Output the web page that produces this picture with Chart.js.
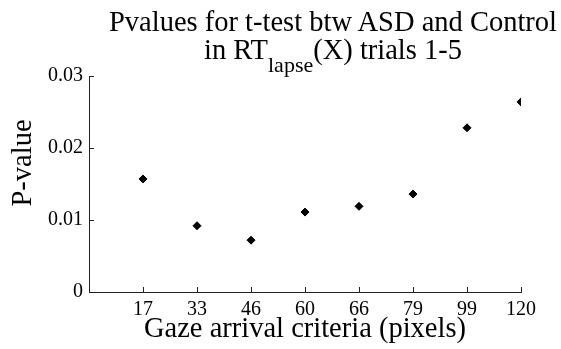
<!DOCTYPE html>
<html lang="en">

<head>
  <meta charset="UTF-8">
  <title>Pvalues</title>
  <script src="https://cdn.jsdelivr.net/npm/chart.js@4/dist/chart.umd.min.js"></script>
  <style>
    body { margin: 0; background: #fff; }
    #wrap { position: relative; width: 561px; height: 349px; }
    #title {
      position: absolute; left: 33px; top: 8px; width: 600px;
      text-align: center; font-family: 'Liberation Serif', serif;
      font-size: 28.5px; line-height: 28px; color: #000; white-space: nowrap;
    }
    #title sub { font-size: 22px; position: relative; top: 13px; vertical-align: baseline; }
    #ylabel {
      position: absolute; left: -78px; top: 149px; width: 200px;
      text-align: center; font-family: 'Liberation Serif', serif;
      font-size: 28.5px; line-height: 28px; color: #000;
      transform: rotate(-90deg);
    }
  </style>
</head>

<body>
  <div id="wrap">
    <canvas id="graph" width="561" height="349"></canvas>
    <div id="title">Pvalues for t-test btw ASD and Control<br>in RT<sub>lapse</sub>(X) trials 1-5</div>
    <div id="ylabel">P-value</div>
  </div>

  <script>
    const criteria = ['17', '33', '46', '60', '66', '79', '99', '120'];
    const pvalues = [0.0157, 0.0092, 0.0072, 0.0111, 0.0119, 0.0136, 0.0228, 0.0264];
    const yTicks = [0, 0.01, 0.02, 0.03];

    const axisColor = '#222';

    // MATLAB style ticks pointing into the plot
    const innerTicks = {
      id: 'innerTicks',
      afterDraw(chart) {
        const ctx = chart.ctx;
        const xs = chart.scales.x, ys = chart.scales.y;
        ctx.save();
        ctx.strokeStyle = axisColor;
        ctx.lineWidth = 1;
        ctx.beginPath();
        xs.ticks.forEach(t => {
          const px = Math.round(xs.getPixelForValue(t.value)) + 0.5;
          ctx.moveTo(px, ys.bottom);
          ctx.lineTo(px, ys.bottom - 5);
        });
        ys.ticks.forEach(t => {
          const py = Math.round(ys.getPixelForValue(t.value)) + 0.5;
          ctx.moveTo(xs.left, py);
          ctx.lineTo(xs.left + 5, py);
        });
        ctx.stroke();
        ctx.restore();
      }
    };

    const ctx = document.getElementById('graph').getContext('2d');
    const chart = new Chart(ctx, {
      type: 'scatter',
      data: {
        datasets: [{
          data: pvalues.map((v, i) => ({ x: i + 1, y: v })),
          pointStyle: 'rectRot',
          pointRadius: 4,
          borderWidth: 1,
          backgroundColor: '#000',
          borderColor: '#000'
        }]
      },
      options: {
        responsive: false,
        animation: false,
        layout: { padding: { top: 76, right: 40, left: 0, bottom: 0 } },
        plugins: { legend: { display: false }, tooltip: { enabled: false } },
        scales: {
          x: {
            type: 'linear',
            min: 0,
            max: 8,
            afterBuildTicks: s => { s.ticks = criteria.map((c, i) => ({ value: i + 1 })); },
            afterFit: s => { s.height = 57; },
            grid: { display: false, drawTicks: false },
            border: { display: true, color: axisColor, width: 1 },
            ticks: {
              padding: 6,
              color: '#000',
              font: { family: 'Liberation Serif', size: 20 },
              callback: v => criteria[v - 1]
            },
            title: {
              display: true,
              text: 'Gaze arrival criteria (pixels)',
              color: '#000',
              font: { family: 'Liberation Serif', size: 28.5 },
              padding: { top: 0, bottom: 2 }
            }
          },
          y: {
            min: 0,
            max: 0.03,
            afterBuildTicks: s => { s.ticks = yTicks.map(v => ({ value: v })); },
            afterFit: s => { s.width = 89; },
            grid: { display: false, drawTicks: false },
            border: { display: true, color: axisColor, width: 1 },
            ticks: {
              padding: 6,
              color: '#000',
              font: { family: 'Liberation Serif', size: 20 },
              callback: v => v === 0 ? '0' : v.toFixed(2)
            }
          }
        }
      },
      plugins: [innerTicks]
    });
  </script>
</body>

</html>
